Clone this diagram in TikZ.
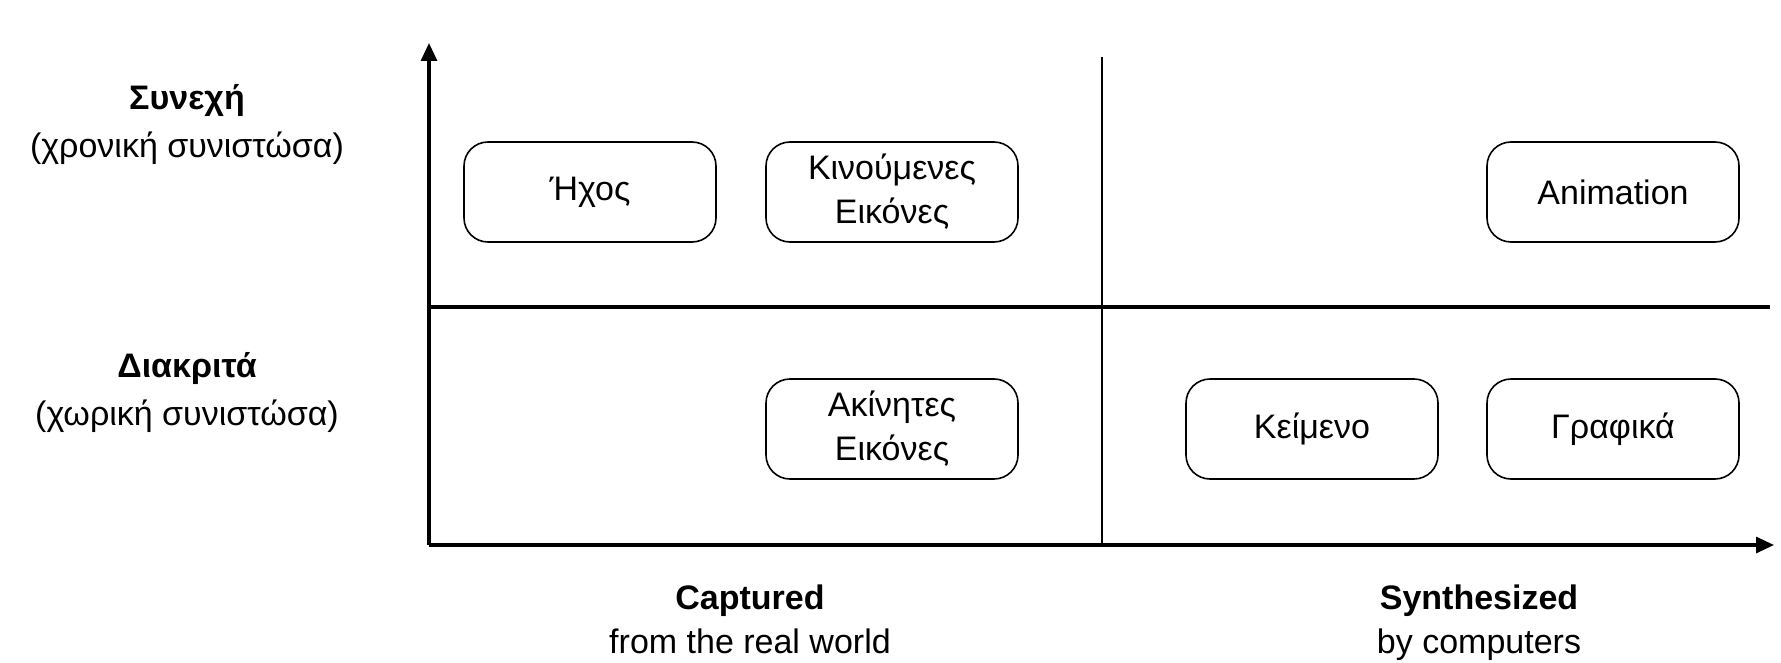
\documentclass[tikz,border=0pt]{standalone}
\usepackage{fontspec}
\setmainfont{Liberation Sans}
\usetikzlibrary{arrows.meta}

\tikzset{
  media/.style={draw, line width=0.8pt, rounded corners=12pt, minimum width=126pt,
    minimum height=50pt, inner sep=0pt, align=center, font=\fontsize{17}{22}\selectfont},
  axis/.style={line width=1.6pt, -{Triangle[length=9pt,width=8pt]}},
  heading/.style={align=center, font=\fontsize{17}{24}\selectfont},
  caption/.style={align=center, anchor=north, inner sep=0pt, font=\fontsize{17}{22}\selectfont}
}

\begin{document}
\begin{tikzpicture}[x=0.5pt, y=-0.5pt]
        \useasboundingbox (0,0) rectangle (1781,663);

        % Axes and dividers
        \coordinate (O) at (429,545);
        \coordinate (ytop) at (429,43);
        \coordinate (xend) at (1774,545);
        \coordinate (divtop) at (1102,57);
        \coordinate (divbot) at (1102,545);
        \coordinate (hleft) at (429,307);
        \coordinate (hright) at (1770,307);

        \draw[axis] (O) -- (ytop);
        \draw[axis] (O) -- (xend);
        \draw[line width=1.6pt] (hleft) -- (hright);
        \draw[line width=0.8pt] (divtop) -- (divbot);

        % Nodes for continuous media
        \node[media] (sound) at (590,192) {Ήχος};
        \node[media] (video) at (892,192) {Κινούμενες\\Εικόνες};
        \node[media] (anim) at (1613,192) {Animation};

        % Nodes for discrete media
        \node[media] (still) at (892,429) {Ακίνητες\\Εικόνες};
        \node[media] (text) at (1312,429) {Κείμενο};
        \node[media] (graph) at (1613,429) {Γραφικά};

        % Axis labels
        \node[heading] (cont) at (187,125) {\textbf{Συνεχή}\\(χρονική συνιστώσα)};
        \node[heading] (disc) at (187,393) {\textbf{Διακριτά}\\(χωρική συνιστώσα)};
        \node[caption] (capt) at (750,584) {\textbf{Captured}\\from the real world};
        \node[caption] (synth) at (1479,584) {\textbf{Synthesized}\\by computers};

\end{tikzpicture}
\end{document}
